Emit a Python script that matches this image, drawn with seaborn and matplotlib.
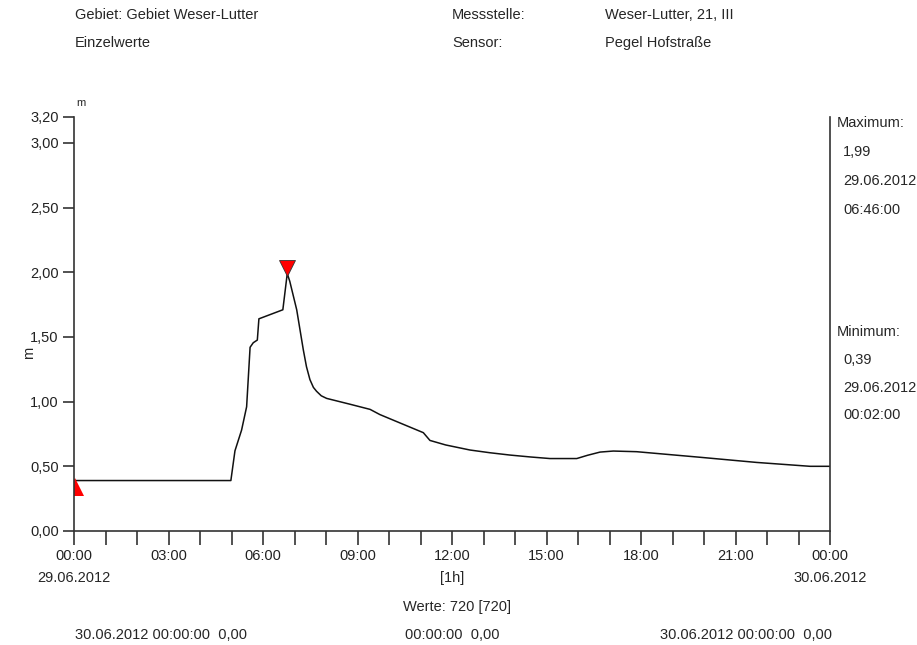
import matplotlib
matplotlib.use("Agg")
import matplotlib.pyplot as plt
import matplotlib.transforms as mtransforms
import numpy as np
import pandas as pd
import seaborn as sns

# Pegel Hofstrasse, 29.06.2012 (hours since 00:00, level in m)
hours = [0.0, 4.90, 4.98, 5.11, 5.32, 5.48, 5.59, 5.69, 5.82, 5.87, 6.63, 6.77,
         6.85, 6.98, 7.07, 7.28, 7.38, 7.49, 7.60, 7.70, 7.85, 8.02, 8.76, 9.40,
         9.71, 10.35, 11.09, 11.30, 11.80, 12.57, 13.20, 13.84, 14.50, 15.11, 15.96,
         16.30, 16.70, 17.12, 17.86, 19.87, 21.67, 23.37, 24.0]
levels = [0.39, 0.39, 0.39, 0.62, 0.78, 0.96, 1.42, 1.455, 1.476, 1.64, 1.71, 1.99,
          1.93, 1.80, 1.71, 1.40, 1.27, 1.17, 1.11, 1.08, 1.045, 1.025, 0.98, 0.94,
          0.90, 0.835, 0.76, 0.70, 0.665, 0.626, 0.605, 0.587, 0.572, 0.56, 0.56,
          0.585, 0.61, 0.618, 0.613, 0.57, 0.53, 0.50, 0.50]

max_hour, max_level = 6.767, 1.99
min_hour, min_level = 0.033, 0.39

y_ticks = [0.0, 0.5, 1.0, 1.5, 2.0, 2.5, 3.0, 3.2]
y_labels = ["0,00", "0,50", "1,00", "1,50", "2,00", "2,50", "3,00", "3,20"]
x_ticks = [0, 3, 6, 9, 12, 15, 18, 21, 24]
x_labels = ["00:00", "03:00", "06:00", "09:00", "12:00", "15:00", "18:00", "21:00", "00:00"]

header_left = ["Gebiet: Gebiet Weser-Lutter", "Einzelwerte"]
header_mid = ["Messstelle:", "Sensor:"]
header_right = ["Weser-Lutter, 21, III", "Pegel Hofstraße"]
max_info = ["1,99", "29.06.2012", "06:46:00"]
min_info = ["0,39", "29.06.2012", "00:02:00"]
footer = ["30.06.2012 00:00:00  0,00", "00:00:00  0,00", "30.06.2012 00:00:00  0,00"]


def set_plt_options():
    sns.set_style("ticks")
    plt.rcParams['font.family'] = ['Liberation Sans', 'DejaVu Sans']
    plt.rcParams['font.size'] = 10.5
    plt.rcParams['axes.edgecolor'] = '#333333'
    plt.rcParams['xtick.color'] = '#333333'
    plt.rcParams['ytick.color'] = '#333333'
    plt.rcParams['xtick.labelcolor'] = '#222222'
    plt.rcParams['ytick.labelcolor'] = '#222222'


def px(x, y):
    # pixel position in the 917x645 figure -> figure fraction
    return x / 917, 1 - y / 645


def main():
    set_plt_options()
    W, H = 917, 645
    fig = plt.figure(figsize=(W / 100, H / 100), dpi=100)
    ax = fig.add_axes([74 / W, 1 - 531 / H, (830 - 74) / W, (531 - 117) / H])

    df = pd.DataFrame({"hour": hours, "level": levels})
    sns.lineplot(data=df, x="hour", y="level", ax=ax, color="#111111", linewidth=1.1)

    # max / min markers, tip touching the data point
    down = mtransforms.offset_copy(ax.transData, fig=fig, x=0, y=6, units='dots')
    up = mtransforms.offset_copy(ax.transData, fig=fig, x=0, y=-6, units='dots')
    ax.plot([max_hour], [max_level], marker='v', markersize=11, color='red',
            markeredgecolor='#333333', markeredgewidth=0.6, transform=down, clip_on=False)
    ax.plot([min_hour], [min_level], marker='^', markersize=13, color='red',
            markeredgewidth=0, transform=up, clip_on=True)

    ax.set_xlim(0, 24)
    ax.set_ylim(0, 3.2)
    ax.set_xticks(x_ticks)
    ax.set_xticklabels(x_labels)
    ax.set_xticks(range(0, 25), minor=True)
    ax.set_yticks(y_ticks)
    ax.set_yticklabels(y_labels)
    ax.tick_params(axis='x', which='both', length=10, width=1.2, direction='out', pad=3)
    ax.tick_params(axis='y', length=8, width=1.2, direction='out', pad=3)
    ax.set_xlabel("")
    ax.set_ylabel("m")
    ax.yaxis.set_label_coords((36 - 74) / 756, 0.43)

    ax.spines['top'].set_visible(False)
    ax.spines['right'].set_visible(True)
    for s in ['left', 'bottom', 'right']:
        ax.spines[s].set_linewidth(1.2)

    fs = 10.5
    # header
    for i, (a, b, c) in enumerate(zip(header_left, header_mid, header_right)):
        y = 15 + 28 * i
        fig.text(*px(75, y), a, fontsize=fs, va='center')
        fig.text(*px(452, y), b, fontsize=fs, va='center')
        fig.text(*px(605, y), c, fontsize=fs, va='center')

    fig.text(*px(76, 103), "m", fontsize=8, va='center')

    # right side info
    fig.text(*px(837, 123), "Maximum:", fontsize=fs, va='center')
    for i, t in enumerate(max_info):
        fig.text(*px(843, 152 + 29 * i), t, fontsize=fs, va='center')
    fig.text(*px(837, 332), "Minimum:", fontsize=fs, va='center')
    for i, t in enumerate(min_info):
        fig.text(*px(843, 360 + 27.5 * i), t, fontsize=fs, va='center')

    # below axis
    fig.text(*px(74, 578), "29.06.2012", fontsize=fs, va='center', ha='center')
    fig.text(*px(452, 578), "[1h]", fontsize=fs, va='center', ha='center')
    fig.text(*px(830, 578), "30.06.2012", fontsize=fs, va='center', ha='center')
    fig.text(*px(457, 607), "Werte: 720 [720]", fontsize=fs, va='center', ha='center')
    fig.text(*px(75, 635), footer[0], fontsize=fs, va='center')
    fig.text(*px(405, 635), footer[1], fontsize=fs, va='center')
    fig.text(*px(660, 635), footer[2], fontsize=fs, va='center')

    fig.savefig("out.png", dpi=100)


if __name__ == "__main__":
    main()
